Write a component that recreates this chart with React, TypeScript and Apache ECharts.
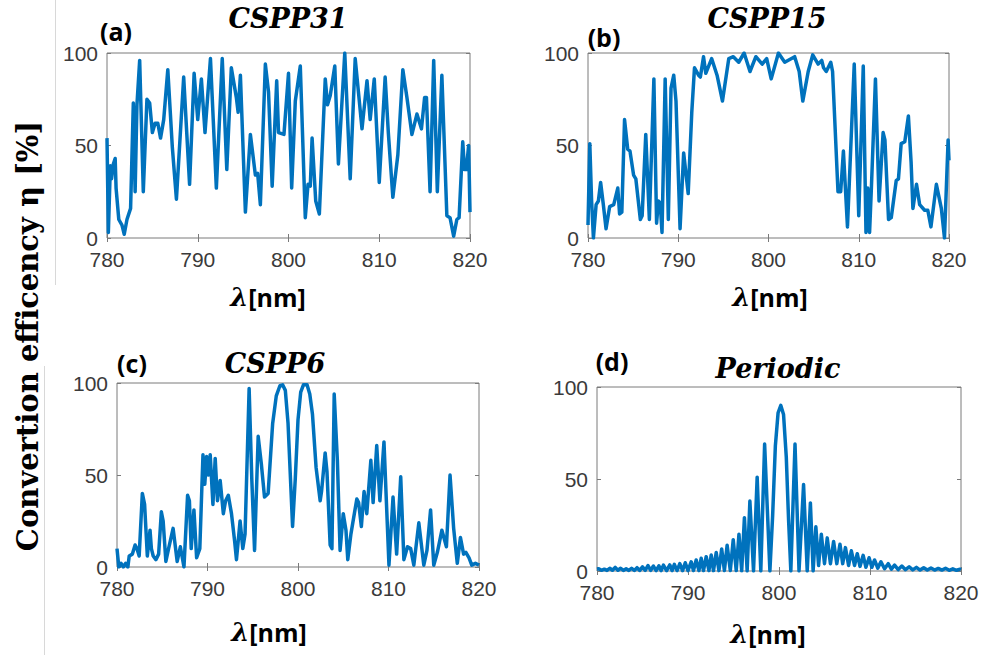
import React, { useEffect, useRef } from "react";
import * as echarts from "echarts";

// ---------- data ----------
const xTicks = [780, 790, 800, 810, 820];
const yTicks = [0, 50, 100];

const titles = ["CSPP31", "CSPP15", "CSPP6", "Periodic"];
const panelLabels = ["(a)", "(b)", "(c)", "(d)"];
const yAxisTitle = "Convertion efficency η [%]";

const aX = [780.0, 780.15, 780.37, 780.5, 780.7, 780.9, 781.0, 781.3, 781.65, 781.9, 782.2, 782.6, 782.9, 783.1, 783.3, 783.6, 784.0, 784.4, 784.7, 785.0, 785.3, 785.6, 785.9, 786.25, 786.7, 787.2, 787.65, 788.45, 789.1, 789.6, 790.0, 790.4, 790.8, 791.4, 792.05, 792.7, 793.2, 793.7, 794.25, 794.45, 794.7, 795.25, 795.8, 796.35, 796.6, 796.9, 797.45, 797.8, 798.2, 798.7, 798.9, 799.5, 800.0, 800.35, 800.75, 801.3, 801.85, 802.15, 802.4, 802.6, 803.0, 803.4, 804.05, 804.3, 804.6, 805.1, 805.5, 806.2, 806.8, 807.35, 808.1, 808.65, 809.0, 809.45, 810.0, 810.65, 811.0, 811.5, 812.05, 812.6, 813.05, 813.6, 814.15, 814.65, 815.0, 815.2, 815.6, 816.0, 816.4, 816.9, 817.45, 817.8, 818.2, 818.55, 818.8, 819.2, 819.4, 819.6, 819.85, 820.0];
const aY = [54, 3, 39, 32, 40, 43, 27, 10, 7, 2, 10, 16, 73, 25, 72, 96, 25, 75, 73, 57, 62, 62, 54, 64, 91, 49, 21, 87, 29, 89, 64, 86, 57, 97, 27, 97, 37, 92, 76, 68, 88, 14, 56, 34, 35, 18, 94, 79, 28, 85, 57, 56, 89, 27, 74, 93, 11, 29, 28, 54, 20, 13, 86, 72, 77, 93, 40, 100, 32, 97, 59, 85, 64, 86, 30, 87, 57, 22, 45, 91, 76, 56, 67, 59, 76, 76, 25, 96, 25, 88, 12, 11, 1, 10, 11, 52, 37, 37, 50, 14];

const bX = [780.0, 780.2, 780.4, 780.6, 780.9, 781.15, 781.4, 781.7, 782.0, 782.4, 782.85, 783.3, 783.5, 783.75, 784.05, 784.4, 784.65, 785.05, 785.3, 785.8, 786.0, 786.4, 786.8, 787.3, 787.6, 787.8, 788.0, 788.2, 788.55, 788.9, 789.2, 789.5, 789.75, 790.2, 790.6, 791.1, 791.5, 791.8, 792.25, 792.45, 792.8, 793.05, 793.7, 794.3, 794.9, 795.6, 796.1, 796.7, 797.3, 797.95, 798.6, 799.3, 799.8, 800.3, 801.1, 801.8, 802.9, 803.4, 803.8, 804.4, 804.9, 805.5, 805.9, 806.1, 806.4, 806.9, 807.1, 807.7, 808.0, 808.3, 808.75, 809.5, 810.0, 810.5, 810.8, 811.0, 811.2, 811.4, 811.85, 812.25, 812.7, 812.9, 813.3, 813.6, 814.15, 814.4, 814.7, 815.1, 815.5, 815.8, 816.0, 816.4, 816.75, 817.3, 817.65, 818.0, 818.6, 819.15, 819.5, 819.9, 820.0];
const bY = [7, 51, 20, 0, 18, 20, 30, 18, 5, 17, 18, 27, 13, 14, 64, 48, 47, 34, 32, 10, 12, 56, 10, 86, 8, 20, 19, 3, 86, 10, 81, 88, 74, 5, 46, 24, 68, 92, 88, 87, 98, 89, 97, 88, 74, 97, 98, 95, 100, 90, 98, 94, 97, 86, 100, 95, 98, 90, 74, 90, 99, 94, 96, 92, 90, 95, 90, 25, 25, 47, 6, 94, 12, 93, 3, 27, 3, 27, 86, 20, 57, 53, 10, 11, 31, 32, 51, 52, 66, 41, 16, 29, 18, 15, 15, 6, 29, 16, 0, 53, 42];

const cX = [780.0, 780.2, 780.45, 780.7, 780.95, 781.2, 781.35, 781.7, 782.0, 782.2, 782.45, 782.8, 783.05, 783.35, 783.65, 783.8, 784.0, 784.3, 784.6, 784.9, 785.1, 785.4, 785.7, 786.2, 786.65, 787.0, 787.4, 787.8, 788.0, 788.2, 788.5, 788.8, 789.15, 789.5, 789.7, 789.9, 790.1, 790.3, 790.6, 790.85, 791.1, 791.4, 791.75, 792.0, 792.3, 792.65, 793.0, 793.2, 793.6, 793.9, 794.15, 794.6, 794.9, 795.2, 795.6, 795.95, 796.3, 796.7, 797.2, 797.6, 798.0, 798.3, 798.6, 798.9, 799.15, 799.4, 799.7, 800.0, 800.3, 800.6, 801.0, 801.3, 801.6, 802.0, 802.45, 802.6, 803.0, 803.2, 803.55, 803.75, 804.0, 804.35, 804.65, 805.0, 805.3, 805.5, 805.85, 806.5, 806.7, 807.0, 807.3, 807.6, 808.05, 808.3, 808.7, 809.05, 809.5, 810.05, 810.5, 810.9, 811.35, 811.7, 812.1, 812.45, 812.8, 813.35, 813.9, 814.25, 814.65, 815.0, 815.4, 815.9, 816.4, 816.8, 817.2, 817.6, 817.95, 818.3, 818.55, 818.9, 819.2, 819.6, 820.0];
const cY = [10, 0, 2, 0, 2, 0, 6, 7, 12, 10, 6, 40, 34, 6, 20, 10, 6, 4, 7, 30, 25, 3, 10, 21, 3, 11, 0, 39, 36, 10, 31, 5, 10, 61, 45, 60, 50, 61, 34, 59, 36, 47, 29, 36, 39, 29, 14, 4, 25, 10, 18, 97, 47, 9, 71, 56, 38, 40, 78, 93, 98.5, 99, 96, 78, 50, 22, 48, 80, 95, 99, 99, 94, 83, 54, 36, 41, 62, 52, 12, 10, 94, 58, 9, 29, 20, 4, 18, 37, 35, 22, 41, 29, 58, 35, 66, 36, 68, 1, 38, 7, 49, 4, 11, 10, 1, 24, 1, 9, 31, 1, 8, 20, 11, 50, 21, 2, 16, 7, 8, 5, 1, 2, 1];

const dX = [780.0, 780.2, 780.5, 780.8, 781.1, 781.4, 781.7, 782.0, 782.3, 782.6, 782.9, 783.2, 783.5, 783.8, 784.1, 784.4, 784.7, 785.0, 785.3, 785.6, 785.9, 786.2, 786.5, 786.8, 787.05, 787.3, 787.65, 788.0, 788.25, 788.5, 788.8, 789.1, 789.4, 789.7, 790.0, 790.35, 790.6, 790.9, 791.2, 791.45, 791.7, 792.0, 792.3, 792.55, 792.8, 793.1, 793.4, 793.7, 794.0, 794.3, 794.65, 794.97, 795.3, 795.6, 795.9, 796.2, 796.5, 796.8, 797.2, 797.6, 798.0, 798.42, 799.0, 799.3, 799.6, 799.9, 800.2, 800.5, 800.8, 801.05, 801.3, 801.76, 802.2, 802.7, 803.1, 803.45, 803.75, 804.05, 804.35, 804.65, 805.0, 805.3, 805.65, 806.0, 806.35, 806.7, 807.0, 807.3, 807.65, 807.95, 808.3, 808.6, 808.9, 809.25, 809.55, 809.9, 810.2, 810.5, 810.85, 811.2, 811.6, 812.0, 812.35, 812.7, 813.1, 813.5, 813.9, 814.3, 814.7, 815.1, 815.5, 815.9, 816.3, 816.7, 817.1, 817.5, 817.9, 818.3, 818.7, 819.1, 819.5, 819.9, 820.0];
const dY = [1.0, 1.2, 0.4, 1.0, 0.3, 1.5, 0.4, 2.0, 0.4, 1.5, 0.3, 1.2, 0.3, 1.5, 0.3, 1.8, 0.3, 2.2, 0.3, 3.0, 0.3, 2.7, 0.2, 2.8, 0.2, 3.2, 0.2, 3.3, 0.2, 3.6, 0.2, 4.0, 0.2, 4.5, 0.2, 5.0, 0.2, 6.0, 0.2, 6.9, 0.2, 7.8, 0.2, 8.7, 0.2, 10, 0.2, 12, 0.2, 14, 0.2, 17, 0.2, 20, 0.1, 29, 0, 38, 0, 51, 0, 69, 0, 30, 68, 86, 90, 85, 62, 28, 0, 69, 0, 47, 0, 37, 0, 24, 3, 20, 4, 18, 4, 16, 4, 14.5, 4, 12.7, 3, 11, 3, 9.4, 2.5, 8.5, 2, 7.2, 2, 6, 1.5, 5, 1.2, 4, 1, 3.2, 0.8, 2.7, 0.7, 2.3, 0.6, 2.0, 0.5, 1.8, 0.5, 1.6, 0.5, 1.4, 0.5, 1.5, 0.4, 1.2, 0.4, 1.0, 0.8];

// ---------- layout ----------
const grids = [
  { left: 107, top: 53, width: 363, height: 185 },
  { left: 588, top: 53, width: 361, height: 185 },
  { left: 117, top: 383, width: 362, height: 184 },
  { left: 597, top: 387, width: 364, height: 184 },
];
const titlePos = [
  [288, 18],
  [767, 18],
  [275, 363],
  [778, 368],
];
const panelLabelPos = [
  [116, 31],
  [604, 37],
  [132, 363],
  [612, 361],
];
const xNamePos = [
  [268, 297],
  [770, 297],
  [269, 632],
  [768, 634],
];

const zip = (xs: number[], ys: number[]) => xs.map((x, i) => [x, ys[i]]);
const seriesData = [zip(aX, aY), zip(bX, bY), zip(cX, cY), zip(dX, dY)];

const AXIS_GRAY = "#7a7a7a";
const LABEL_COLOR = "#3a3a3a";
const LINE_BLUE = "#0072BD";

export default function App() {
  const ref = useRef<HTMLDivElement>(null);
  useEffect(() => {
    if (!ref.current) return;
    const chart = echarts.init(ref.current, undefined, { renderer: "svg" });
    const xAxes: any[] = [];
    const yAxes: any[] = [];
    const series: any[] = [];
    grids.forEach((g, i) => {
      const tick = { show: true, inside: true, length: 4, lineStyle: { color: AXIS_GRAY } };
      xAxes.push({
        type: "value", gridIndex: i, min: xTicks[0], max: xTicks[xTicks.length - 1], interval: 10,
        position: "bottom", axisLine: { show: false }, axisTick: tick, splitLine: { show: false },
        axisLabel: { color: LABEL_COLOR, fontSize: 21, fontFamily: "Liberation Sans, Arial, sans-serif", margin: 11 },
      });
      xAxes.push({
        type: "value", gridIndex: i, min: xTicks[0], max: xTicks[xTicks.length - 1], interval: 10,
        position: "top", axisLine: { show: false }, axisTick: tick, splitLine: { show: false },
        axisLabel: { show: false },
      });
      yAxes.push({
        type: "value", gridIndex: i, min: yTicks[0], max: yTicks[yTicks.length - 1], interval: 50,
        position: "left", axisLine: { show: false }, axisTick: tick, splitLine: { show: false },
        axisLabel: { color: LABEL_COLOR, fontSize: 21, fontFamily: "Liberation Sans, Arial, sans-serif", margin: 9 },
      });
      yAxes.push({
        type: "value", gridIndex: i, min: yTicks[0], max: yTicks[yTicks.length - 1], interval: 50,
        position: "right", axisLine: { show: false }, axisTick: tick, splitLine: { show: false },
        axisLabel: { show: false },
      });
      series.push({
        type: "line", xAxisIndex: 2 * i, yAxisIndex: 2 * i, data: seriesData[i],
        showSymbol: false, symbol: "none", lineStyle: { color: LINE_BLUE, width: 3.5, join: "round" },
        silent: true,
      });
    });

    const graphics: any[] = [];
    // faint divider lines from the original composite
    graphics.push({ type: "line", shape: { x1: 55.5, y1: 0, x2: 55.5, y2: 285 }, style: { stroke: "#d8d8d8", lineWidth: 1 }, silent: true });
    graphics.push({ type: "line", shape: { x1: 44.5, y1: 366, x2: 44.5, y2: 655 }, style: { stroke: "#d8d8d8", lineWidth: 1 }, silent: true });

    titles.forEach((t, i) => {
      graphics.push({
        type: "text", x: titlePos[i][0], y: titlePos[i][1],
        style: { text: t, font: 'italic bold 27px "DejaVu Serif"', fill: "#000", align: "center", verticalAlign: "middle" },
      });
      graphics.push({
        type: "text", x: panelLabelPos[i][0], y: panelLabelPos[i][1],
        style: { text: panelLabels[i], font: 'bold 25px "Open Sans"', fill: "#000", align: "center", verticalAlign: "middle" },
      });
      graphics.push({
        type: "text", x: xNamePos[i][0], y: xNamePos[i][1],
        style: {
          text: "{l|λ}{n|[nm]}", align: "center", verticalAlign: "middle",
          rich: {
            l: { font: 'italic bold 26px "DejaVu Serif"', fill: "#000" },
            n: { font: 'bold 25px "Open Sans"', fill: "#000" },
          },
        },
      });
    });
    graphics.push({
      type: "text", x: 28, y: 336, rotation: Math.PI / 2,
      style: { text: yAxisTitle, font: 'bold 29px "DejaVu Serif"', fill: "#000", align: "center", verticalAlign: "middle" },
    });

    chart.setOption({
      animation: false,
      backgroundColor: "#ffffff",
      grid: grids.map((g) => ({ ...g, show: true, borderColor: AXIS_GRAY, borderWidth: 1, backgroundColor: "transparent" })),
      xAxis: xAxes,
      yAxis: yAxes,
      series,
      graphic: graphics,
    });
    return () => chart.dispose();
  }, []);
  return <div ref={ref} style={{ position: "fixed", left: 0, top: 0, width: 983, height: 655 }} />;
}
